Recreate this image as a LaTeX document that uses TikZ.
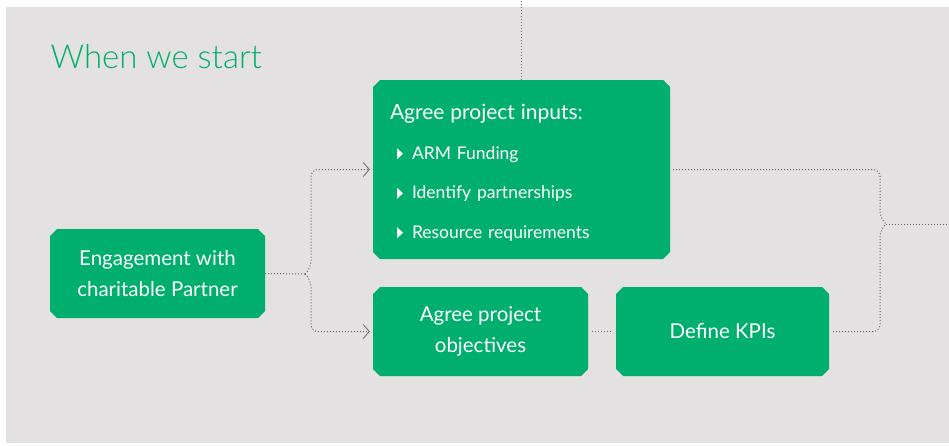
\documentclass[tikz,border=0pt]{standalone}
\usepackage{fontspec}
\setmainfont{Lato}
\newfontfamily\titleFont{Lato Light}
\usetikzlibrary{shapes.misc,arrows.meta}
\definecolor{armgreen}{RGB}{0,175,110}
\definecolor{panelgrey}{RGB}{227,225,226}
\definecolor{linkgrey}{RGB}{105,105,105}
\newcommand{\stageFont}{\fontsize{20.5}{31.5}\selectfont}
\newcommand{\listFont}{\fontsize{17.5}{39.5}\selectfont}
\newcommand{\itemMark}{\tikz[baseline=0pt]\fill[white] (0,0) -- (0,11pt) -- (6pt,5.5pt) -- cycle;}

\begin{document}
\begin{tikzpicture}[x=1pt, y=-1pt]
  \tikzset{
    stage/.style={shape=chamfered rectangle, chamfered rectangle xsep=3.5pt,
      chamfered rectangle ysep=3.5pt, fill=armgreen, text=white,
      inner sep=0pt, align=center, font=\stageFont},
    link/.style={linkgrey, dotted, line width=1pt},
    link arrow/.style={link, -{Straight Barb[length=6pt,width=14pt,line width=0.8pt]}, shorten >=3pt}
  }
  \useasboundingbox (0,0) rectangle (949,445);
  \fill[panelgrey] (6,7) rectangle (949,443);

  \node[anchor=base west, text=armgreen, font=\titleFont\fontsize{33}{33}\selectfont]
    (title) at (47,68) {When we start};

  % the four stages
  \node[stage, minimum width=215, minimum height=89] (engage) at (157.5,273.5)
    {Engagement with\\charitable Partner};
  \node[stage, minimum width=297, minimum height=179, align=left,
        text width=263, font=\listFont] (inputs) at (521.5,169.5)
    {{\fontsize{21}{39.5}\selectfont\rule{0pt}{22pt}Agree project inputs:}\\
     \hspace{7pt}\itemMark\hspace{9pt}ARM Funding\\
     \hspace{7pt}\itemMark\hspace{9pt}Identify partnerships\\
     \hspace{7pt}\itemMark\hspace{9pt}Resource requirements};
  \node[stage, minimum width=215, minimum height=89] (objectives) at (480.5,331.5)
    {Agree project\\objectives};
  \node[stage, minimum width=213, minimum height=89] (kpis) at (722.5,331.5)
    {Define KPIs};

  % brace points of the connectors
  \coordinate (top) at (522,0);
  \coordinate (split) at (305,274);
  \coordinate (split top) at (311,268);
  \coordinate (split bottom) at (311,280);
  \coordinate (merge) at (886,224);
  \coordinate (merge top) at (880,218);
  \coordinate (merge bottom) at (880,230);
  \coordinate (exit) at (949,224);

  \draw[link] (inputs.north) -- (inputs.north |- top);
  \draw[link] (engage.east) -- (split);
  \draw[link arrow, rounded corners=7] (split) -- (split top) |- (inputs.west);
  \draw[link arrow, rounded corners=7] (split) -- (split bottom) |- (objectives.west);
  \draw[link, shorten <=4pt, shorten >=4pt] (objectives.east) -- (kpis.west);
  \draw[link, rounded corners=7, shorten <=3pt] (inputs.east) -| (merge top) -- (merge);
  \draw[link, rounded corners=7, shorten <=4pt] (kpis.east) -| (merge bottom) -- (merge);
  \draw[link] (merge) -- (exit);
\end{tikzpicture}
\end{document}
